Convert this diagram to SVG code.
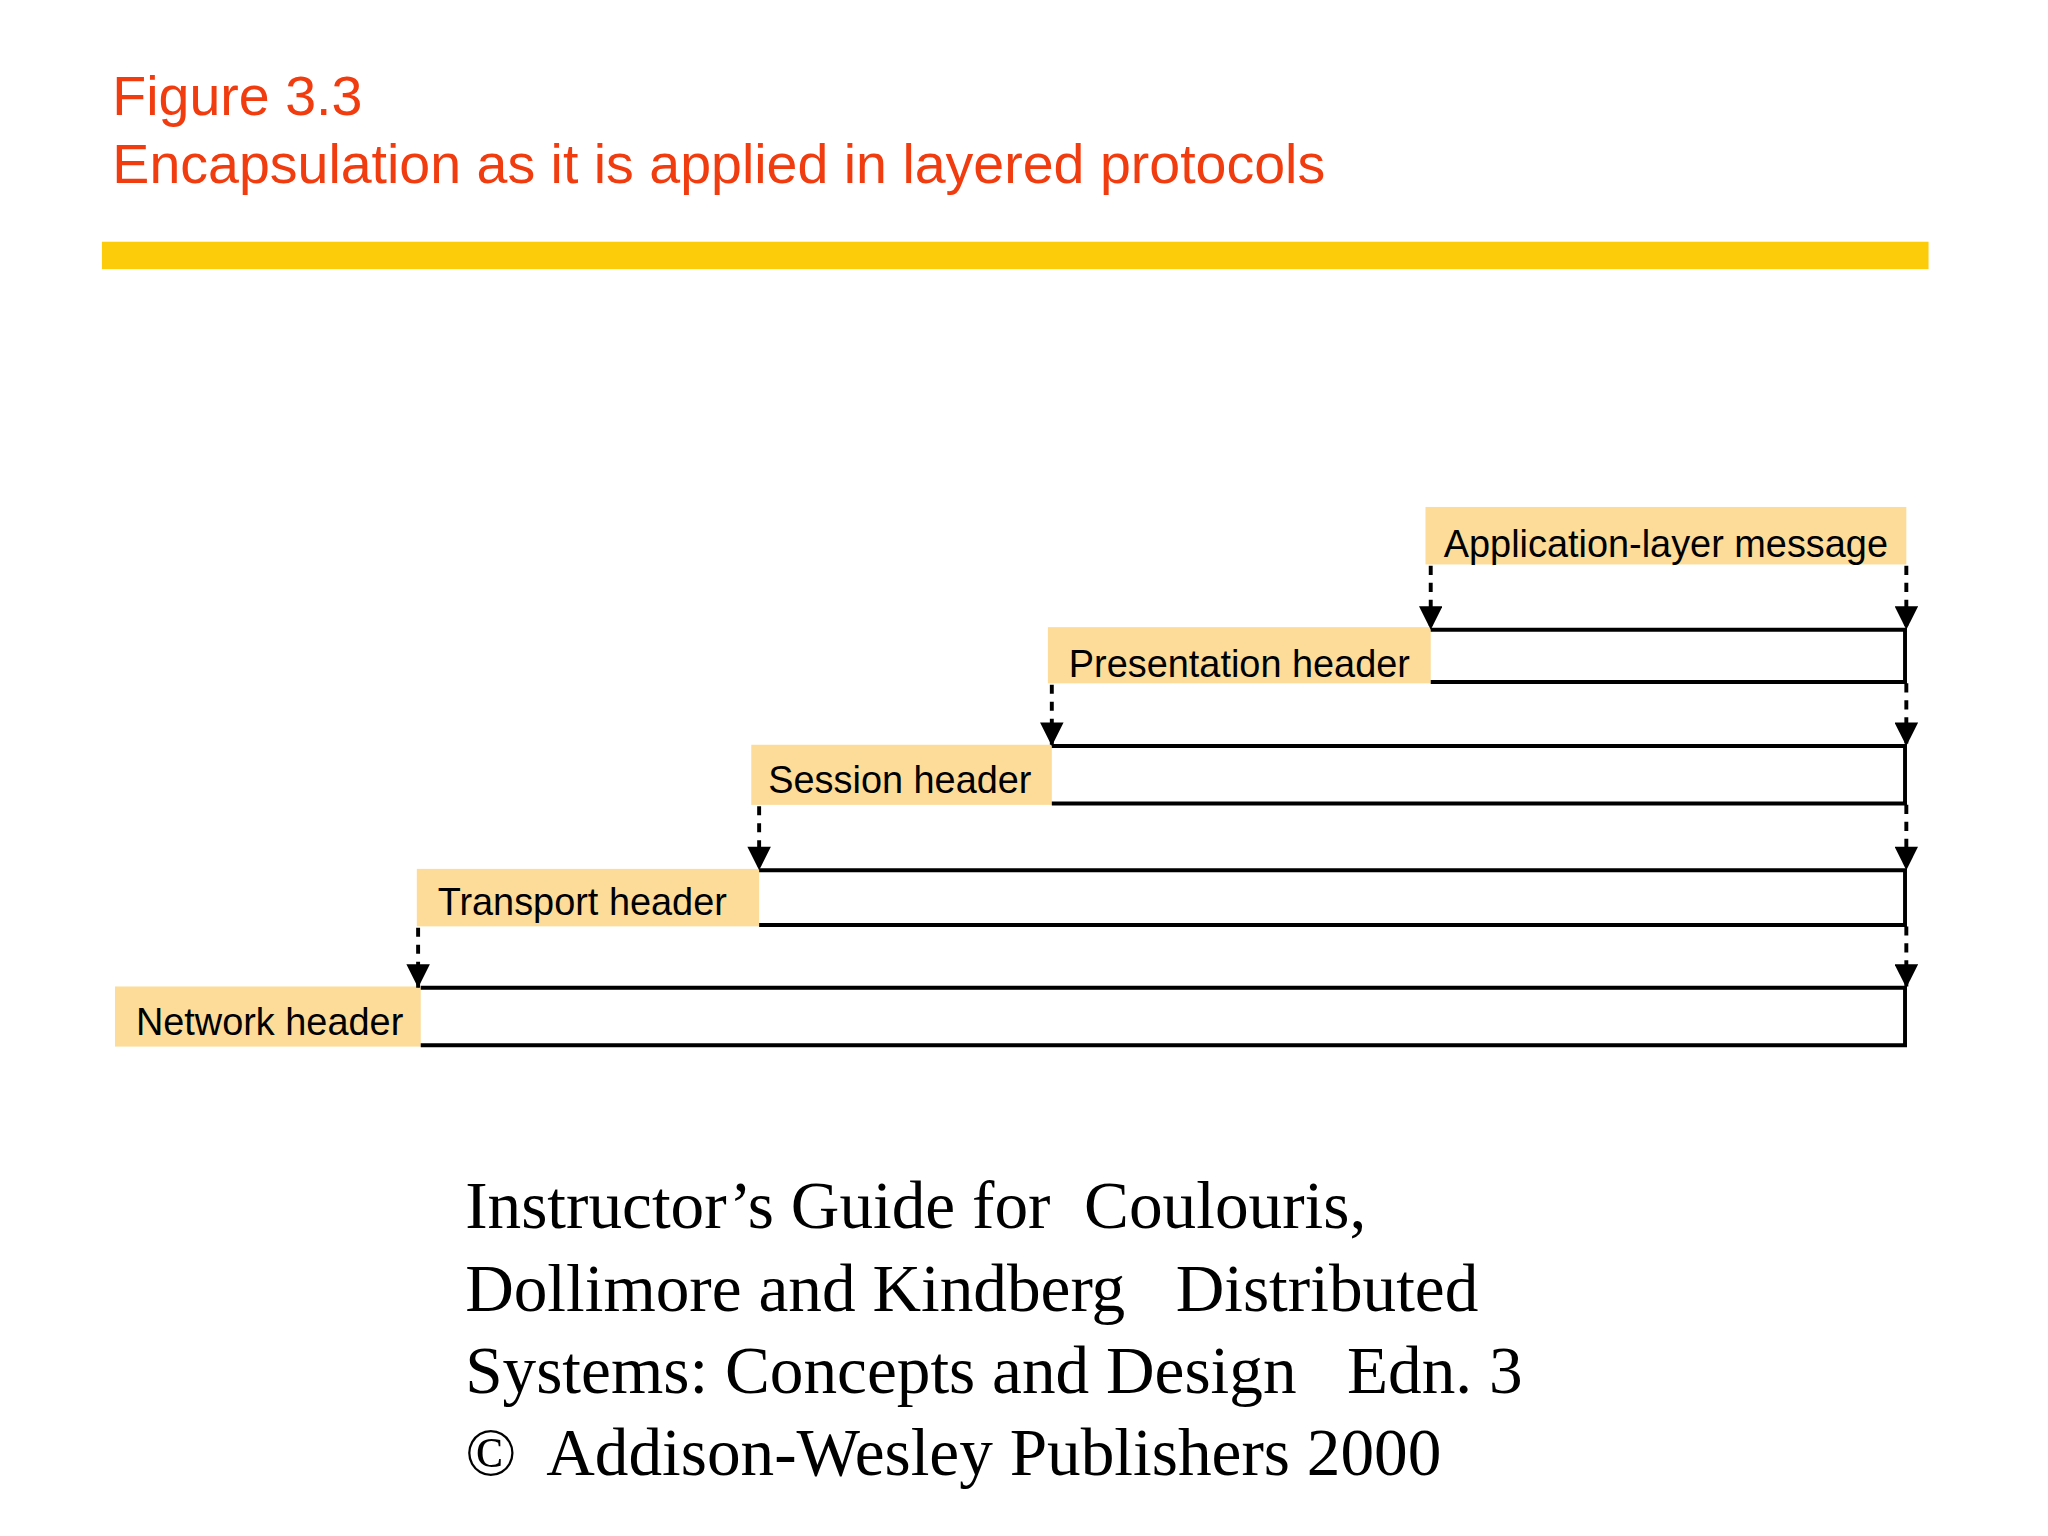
<svg xmlns="http://www.w3.org/2000/svg" width="2048" height="1536" viewBox="0 0 2048 1536">
<defs>
<style>
.t{font-family:"Liberation Sans",Arial,sans-serif;fill:#f03c0f;font-size:42.5px}
.lb{fill:#fcdc98}
.l{font-family:"Liberation Sans",Arial,sans-serif;font-size:29px;fill:#000}
.r{fill:none;stroke:#000;stroke-width:3}
.d{stroke:#000;stroke-width:3;stroke-dasharray:7,6;fill:none}
.f{font-family:"Liberation Serif","Times New Roman",serif;font-size:51.5px;fill:#000}
</style>
<marker id="a" viewBox="0 0 10 10" refX="10" refY="5" markerWidth="7" markerHeight="6" orient="auto" markerUnits="strokeWidth"><path d="M0,0L10,5L0,10z" fill="#000"/></marker>
</defs>
<rect width="2048" height="1536" fill="#fff"/>
<g transform="scale(1.3066)">
<text class="t" x="86" y="88">Figure 3.3</text>
<text class="t" x="86" y="140">Encapsulation as it is applied in layered protocols</text>
<rect x="78" y="185" width="1398" height="21" fill="#fccc0a"/>
<g id="app"><rect class="lb" x="1091" y="388" width="368" height="44"/><text class="l" x="1105" y="426">Application-layer message</text></g>
<g id="pres"><rect class="lb" x="802" y="480" width="293" height="43"/><text class="l" x="818" y="518">Presentation header</text><path class="r" d="M1095,482H1458V522H1095"/></g>
<g id="sess"><rect class="lb" x="575" y="570" width="230" height="46"/><text class="l" x="588" y="607">Session header</text><path class="r" d="M805,571H1458V615H805"/></g>
<g id="trans"><rect class="lb" x="319" y="665" width="262" height="44"/><text class="l" x="335" y="700">Transport header</text><path class="r" d="M581,666H1458V708H581"/></g>
<g id="net"><rect class="lb" x="88" y="755" width="234" height="46"/><text class="l" x="104" y="792">Network header</text><path class="r" d="M322,756H1458V800H322"/></g>
<g id="connectors">
<path class="d" d="M1095,433V482" marker-end="url(#a)"/>
<path class="d" d="M1459,433V482" marker-end="url(#a)"/>
<path class="d" d="M805,524V571" marker-end="url(#a)"/>
<path class="d" d="M1459,523V571" marker-end="url(#a)"/>
<path class="d" d="M581,617V666" marker-end="url(#a)"/>
<path class="d" d="M1459,616V666" marker-end="url(#a)"/>
<path class="d" d="M320,710V756" marker-end="url(#a)"/>
<path class="d" d="M1459,709V756" marker-end="url(#a)"/>
</g>
<text class="f" x="356" y="940" xml:space="preserve">Instructor’s Guide for  Coulouris,</text>
<text class="f" x="356" y="1003" xml:space="preserve">Dollimore and Kindberg   Distributed</text>
<text class="f" x="356" y="1066" xml:space="preserve">Systems: Concepts and Design   Edn. 3</text>
<text class="f" x="356" y="1129" xml:space="preserve">©  Addison-Wesley Publishers 2000</text>
</g>
</svg>
